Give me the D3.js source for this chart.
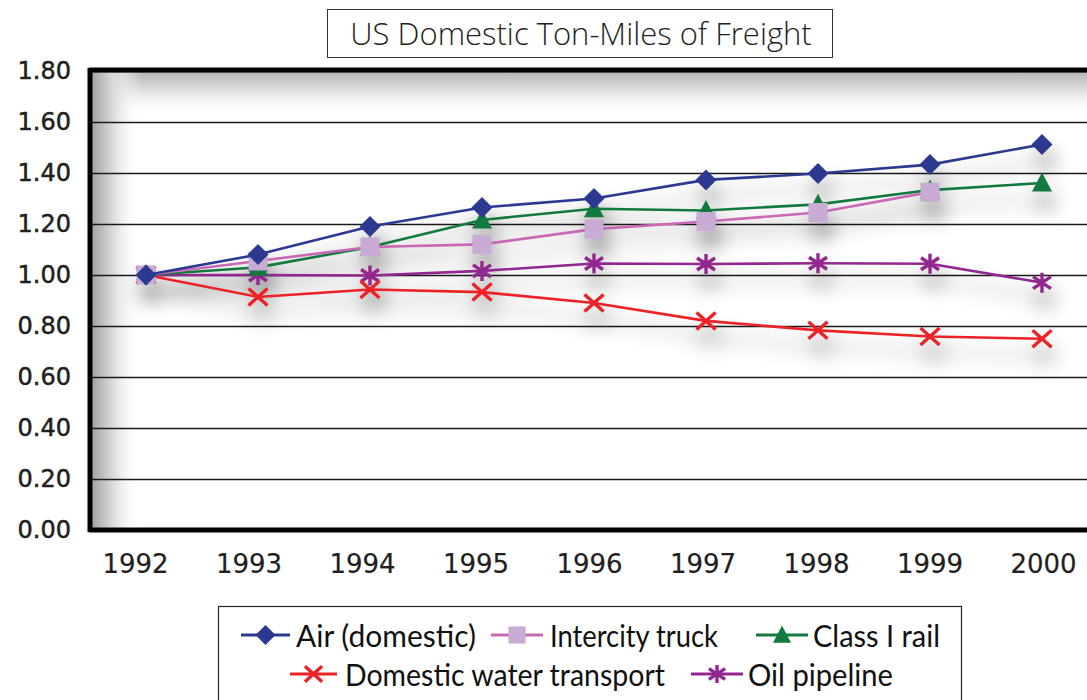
<!DOCTYPE html>
<html>
<head>
<meta charset="utf-8">
<script src="https://cdnjs.cloudflare.com/ajax/libs/d3/7.8.5/d3.min.js"></script>
<style>
  body { margin: 0; background: #fff; }
  svg { display: block; }
</style>
</head>
<body>
<div id="chart"></div>
<script>
// Data (index, 1992 = 1.00)
const years = [1992, 1993, 1994, 1995, 1996, 1997, 1998, 1999, 2000];
const air = [1.00, 1.08, 1.19, 1.265, 1.30, 1.373, 1.398, 1.433, 1.512];
const truck = [1.00, 1.055, 1.11, 1.12, 1.18, 1.21, 1.245, 1.325, null];
const rail = [1.00, 1.03, 1.11, 1.216, 1.26, 1.253, 1.277, 1.333, 1.361];
const water = [1.00, 0.914, 0.943, 0.933, 0.89, 0.82, 0.783, 0.759, 0.75];
const pipeline = [1.00, 1.00, 0.998, 1.016, 1.045, 1.043, 1.046, 1.044, 0.97];
const yTicks = [0, 0.2, 0.4, 0.6, 0.8, 1.0, 1.2, 1.4, 1.6, 1.8];

const seriesList = [
  { name: 'Air (domestic)', values: air, line: '#2b3990', fill: '#2b3990', marker: 'diamond' },
  { name: 'Intercity truck', values: truck, line: '#c968b4', fill: '#c9acd4', marker: 'square' },
  { name: 'Class I rail', values: rail, line: '#127a3e', fill: '#127a3e', marker: 'triangle' },
  { name: 'Domestic water transport', values: water, line: '#ec2227', fill: '#ec2227', marker: 'x' },
  { name: 'Oil pipeline', values: pipeline, line: '#92278f', fill: '#92278f', marker: 'star' }
];

// Layout
const width = 1087;
const height = 700;
const plot = { left: 91, top: 71, right: 1100, bottom: 530 };

const svg = d3.select('#chart').append('svg')
  .attr('width', width)
  .attr('height', height);

const defs = svg.append('defs');
const gl = defs.append('linearGradient').attr('id', 'vigLeft').attr('x1', 0).attr('x2', 1).attr('y1', 0).attr('y2', 0);
gl.append('stop').attr('offset', 0).attr('stop-color', '#a0a0a0');
gl.append('stop').attr('offset', 0.45).attr('stop-color', '#dcdcdc');
gl.append('stop').attr('offset', 1).attr('stop-color', '#ffffff').attr('stop-opacity', 0);
const gt = defs.append('linearGradient').attr('id', 'vigTop').attr('x1', 0).attr('x2', 0).attr('y1', 0).attr('y2', 1);
gt.append('stop').attr('offset', 0).attr('stop-color', '#b4b4b4');
gt.append('stop').attr('offset', 0.5).attr('stop-color', '#e6e6e6');
gt.append('stop').attr('offset', 1).attr('stop-color', '#ffffff').attr('stop-opacity', 0);

const shadow = defs.append('filter').attr('id', 'shadow')
  .attr('x', '-10%').attr('y', '-30%').attr('width', '120%').attr('height', '160%');
shadow.append('feGaussianBlur').attr('in', 'SourceAlpha').attr('stdDeviation', 10).attr('result', 'b');
shadow.append('feOffset').attr('in', 'b').attr('dx', 4).attr('dy', 16).attr('result', 'o');
shadow.append('feComponentTransfer').attr('in', 'o').attr('result', 's')
  .append('feFuncA').attr('type', 'linear').attr('slope', 0.45);

// Scales: points and (slightly offset) year labels
const x = d3.scaleLinear().domain([1992, 2000]).range([146, 1042]);
const xLabel = d3.scaleLinear().domain([1992, 2000]).range([135, 1043]);
const y = d3.scaleLinear().domain([0, 1.8]).range([plot.bottom, plot.top]);

// Plot background with vignette
svg.append('rect')
  .attr('x', plot.left).attr('y', plot.top)
  .attr('width', plot.right - plot.left).attr('height', plot.bottom - plot.top)
  .attr('fill', '#fff');
svg.append('rect')
  .attr('x', plot.left).attr('y', plot.top)
  .attr('width', plot.right - plot.left).attr('height', 45)
  .attr('fill', 'url(#vigTop)');
svg.append('rect')
  .attr('x', plot.left).attr('y', plot.top)
  .attr('width', 50).attr('height', plot.bottom - plot.top)
  .attr('fill', 'url(#vigLeft)');

// Grid lines
svg.append('g')
  .attr('class', 'grid')
  .attr('transform', `translate(${plot.left},0)`)
  .call(d3.axisLeft(y).tickValues(yTicks).tickSize(-(plot.right - plot.left)).tickFormat(''))
  .call(g => g.select('.domain').remove())
  .call(g => g.selectAll('line').attr('stroke', '#1a1a1a').attr('stroke-width', 1.4));

// Frame: left, top, bottom thick borders
svg.append('line').attr('x1', plot.left - 2).attr('x2', plot.right).attr('y1', plot.top - 1).attr('y2', plot.top - 1)
  .attr('stroke', '#000').attr('stroke-width', 5);
svg.append('line').attr('x1', plot.left - 2).attr('x2', plot.right).attr('y1', plot.bottom).attr('y2', plot.bottom)
  .attr('stroke', '#000').attr('stroke-width', 5);
svg.append('line').attr('x1', plot.left - 1).attr('x2', plot.left - 1).attr('y1', plot.top - 3).attr('y2', plot.bottom + 2)
  .attr('stroke', '#000').attr('stroke-width', 5);

// Y axis labels
svg.append('g')
  .attr('transform', `translate(${plot.left - 20},0)`)
  .call(d3.axisLeft(y).tickValues(yTicks).tickSize(0).tickFormat(d3.format('.2f')))
  .call(g => g.select('.domain').remove())
  .call(g => g.selectAll('text')
    .attr('x', 0)
    .attr('dy', '0.3em')
    .style('font-family', '"DejaVu Sans", sans-serif')
    .style('font-size', '24px')
    .attr('fill', '#231f20')
    .attr('stroke', '#231f20')
    .attr('stroke-width', 0.5));

// X axis labels
svg.append('g')
  .attr('transform', `translate(0,${plot.bottom})`)
  .call(d3.axisBottom(xLabel).tickValues(years).tickSize(0).tickFormat(d3.format('d')))
  .call(g => g.select('.domain').remove())
  .call(g => g.selectAll('text')
    .attr('y', 43)
    .attr('dy', 0)
    .style('font-family', '"DejaVu Sans", sans-serif')
    .style('font-size', '26px')
    .attr('fill', '#231f20')
    .attr('stroke', '#231f20')
    .attr('stroke-width', 0.2));

// Marker shapes
function markerPath(type, s) {
  if (type === 'diamond') return `M0,${-s}L${s},0L0,${s}L${-s},0Z`;
  if (type === 'square') return `M${-s * 0.95},${-s * 0.95}h${s * 1.9}v${s * 1.9}h${-s * 1.9}Z`;
  if (type === 'triangle') return `M0,${-s * 1.05}L${s},${s * 0.85}L${-s},${s * 0.85}Z`;
  if (type === 'x') return `M${-s * 0.95},${-s * 0.85}L${s * 0.95},${s * 0.85}M${s * 0.95},${-s * 0.85}L${-s * 0.95},${s * 0.85}`;
  // star / asterisk
  return `M0,${-s}V${s}M${-s * 0.9},${-s * 0.6}L${s * 0.9},${s * 0.6}M${s * 0.9},${-s * 0.6}L${-s * 0.9},${s * 0.6}`;
}
const strokeMarker = t => t === 'x' || t === 'star';

function drawMarker(g, type, fill, s) {
  const p = g.append('path').attr('d', markerPath(type, s));
  if (strokeMarker(type)) {
    p.attr('fill', 'none').attr('stroke', fill).attr('stroke-width', 3.4);
  } else {
    p.attr('fill', fill);
  }
}

const line = d3.line()
  .x(d => x(d.year))
  .y(d => y(d.v));

// Shadow layer then series
const shadowLayer = svg.append('g').attr('filter', 'url(#shadow)');
const seriesLayer = svg.append('g');

[shadowLayer, seriesLayer].forEach(layer => {
  seriesList.slice().reverse().forEach(s => {
    const pts = years.map((yr, i) => ({ year: yr, v: s.values[i] })).filter(d => d.v != null);
    layer.append('path')
      .datum(pts)
      .attr('d', line)
      .attr('fill', 'none')
      .attr('stroke', s.line)
      .attr('stroke-width', 2.6);
    pts.forEach(d => {
      const g = layer.append('g').attr('transform', `translate(${x(d.year)},${y(d.v)})`);
      drawMarker(g, s.marker, s.fill, s.marker === 'diamond' ? 10.5 : 10);
    });
  });
});

// Title
const titleG = svg.append('g');
titleG.append('rect')
  .attr('x', 327.5).attr('y', 9.5).attr('width', 505).attr('height', 48)
  .attr('fill', '#fff').attr('stroke', '#333').attr('stroke-width', 1);
titleG.append('text')
  .attr('x', 581).attr('y', 45)
  .attr('text-anchor', 'middle')
  .style('font-family', '"Open Sans", "Noto Sans", sans-serif')
  .style('font-weight', 300)
  .style('font-size', '31px')
  .attr('fill', '#231f20')
  .text('US Domestic Ton-Miles of Freight');

// Legend
const legend = svg.append('g');
legend.append('rect')
  .attr('x', 218.5).attr('y', 606.5).attr('width', 743).attr('height', 110)
  .attr('fill', '#fff').attr('stroke', '#222').attr('stroke-width', 1.2);

// symbol line start/end, text start/width, row centre
const legendPos = [
  { x0: 241, x1: 290, tx: 296, tw: 180, ty: 635 },
  { x0: 491, x1: 543, tx: 550, tw: 168, ty: 635 },
  { x0: 756, x1: 808, tx: 813, tw: 127, ty: 635 },
  { x0: 290, x1: 337, tx: 345, tw: 320, ty: 674 },
  { x0: 691, x1: 743, tx: 748, tw: 145, ty: 674 }
];

seriesList.forEach((s, i) => {
  const p = legendPos[i];
  const g = legend.append('g');
  g.append('line')
    .attr('x1', p.x0).attr('x2', p.x1).attr('y1', p.ty).attr('y2', p.ty)
    .attr('stroke', s.line).attr('stroke-width', 3);
  const m = g.append('g').attr('transform', `translate(${(p.x0 + p.x1) / 2},${p.ty})`);
  drawMarker(m, s.marker, s.fill, s.marker === 'diamond' ? 10 : 9);
  g.append('text')
    .attr('x', p.tx).attr('y', p.ty + 12)
    .attr('textLength', p.tw)
    .attr('lengthAdjust', 'spacingAndGlyphs')
    .style('font-family', 'Lato, "Open Sans", sans-serif')
    .style('font-size', '30px')
    .attr('fill', '#111')
    .text(s.name);
});
</script>
</body>
</html>
